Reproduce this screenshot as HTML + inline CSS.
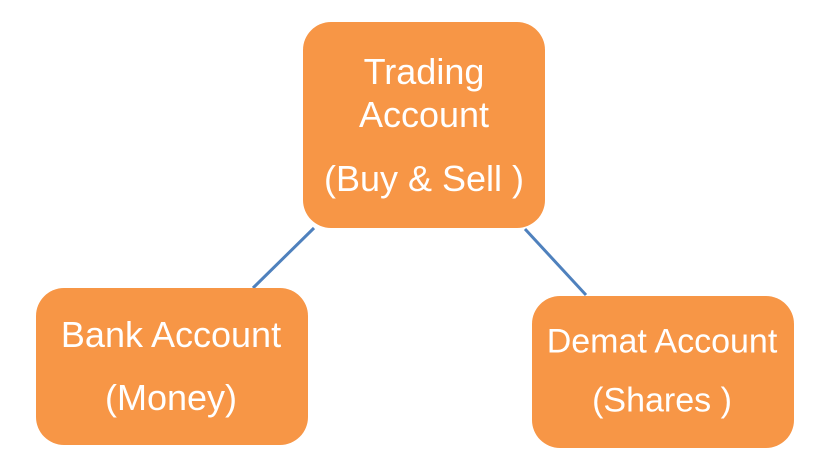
<!DOCTYPE html>
<html><head><style>
body{margin:0;width:815px;height:473px;background:#fff;position:relative;overflow:hidden;font-family:"Liberation Sans",sans-serif;}
.b{position:absolute;background:#f79646;border-radius:28px;}
.t{position:absolute;color:#fff;font-size:36px;white-space:nowrap;transform:translate(-50%,-50%);}
</style></head><body>
<svg width="815" height="473" style="position:absolute;left:0;top:0">
<line x1="314" y1="228" x2="253" y2="288" stroke="#4f81bd" stroke-width="3"/>
<line x1="525" y1="229" x2="586" y2="295" stroke="#4f81bd" stroke-width="3"/>
</svg>
<div class="b" style="left:303px;top:22px;width:242px;height:206px"></div>
<div class="b" style="left:36px;top:288px;width:272px;height:157px"></div>
<div class="b" style="left:532px;top:296px;width:262px;height:152px"></div>
<div class="t" style="left:424px;top:72px">Trading</div>
<div class="t" style="left:424px;top:115px">Account</div>
<div class="t" style="left:424px;top:179px">(Buy &amp; Sell )</div>
<div class="t" style="left:171px;top:335px">Bank Account</div>
<div class="t" style="left:171px;top:398px">(Money)</div>
<div class="t" style="left:662px;top:342px;font-size:34px">Demat Account</div>
<div class="t" style="left:662px;top:401px;font-size:34px">(Shares )</div>
</body></html>
